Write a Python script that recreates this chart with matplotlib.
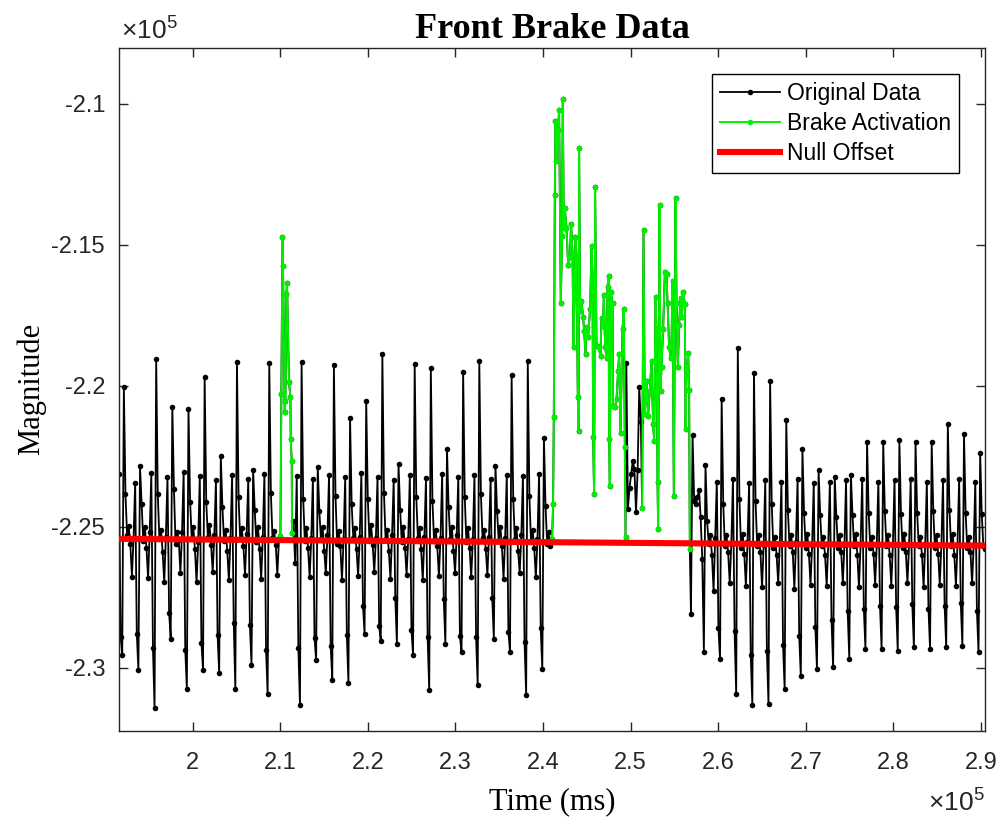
import numpy as np
import matplotlib
matplotlib.use("Agg")
import matplotlib.pyplot as plt
from matplotlib.ticker import FuncFormatter

plt.rcParams['font.family'] = 'Liberation Sans'
plt.rcParams['mathtext.fontset'] = 'custom'
plt.rcParams['mathtext.rm'] = 'Liberation Sans'

# logger sample clock (ms)
t0 = 191590
dt = 184.45

# Original Data, magnitude in units of 1e5, one spike period (10 samples) per row
# samples 0-99
seg_a = [
    -2.2312, -2.2890, -2.2954, -2.2004, -2.2384, -2.2530, -2.2496, -2.2560, -2.2677, -2.2540,
    -2.2346, -2.2879, -2.3007, -2.2286, -2.2420, -2.2550, -2.2500, -2.2575, -2.2683, -2.2520,
    -2.2311, -2.2929, -2.3142, -2.1904, -2.2384, -2.2545, -2.2510, -2.2590, -2.2697, -2.2535,
    -2.2325, -2.2805, -2.2897, -2.2074, -2.2366, -2.2560, -2.2520, -2.2548, -2.2665, -2.2520,
    -2.2307, -2.2936, -2.3074, -2.2082, -2.2411, -2.2540, -2.2502, -2.2580, -2.2697, -2.2555,
    -2.2321, -2.2911, -2.3007, -2.1968, -2.2414, -2.2535, -2.2495, -2.2565, -2.2660, -2.2530,
    -2.2335, -2.2883, -2.3018, -2.2248, -2.2430, -2.2550, -2.2510, -2.2585, -2.2690, -2.2540,
    -2.2318, -2.2840, -2.3074, -2.1915, -2.2395, -2.2545, -2.2505, -2.2570, -2.2672, -2.2525,
    -2.2330, -2.2848, -2.2989, -2.2298, -2.2440, -2.2555, -2.2500, -2.2580, -2.2685, -2.2535,
    -2.2312, -2.2936, -2.3092, -2.1918, -2.2380, -2.2540, -2.2515, -2.2565, -2.2670, -2.2545,
]
# samples 108-267
seg_b = [
    -2.2480, -2.2627,
    -2.2319, -2.2929, -2.3131, -2.1915, -2.2400, -2.2550, -2.2505, -2.2575, -2.2680, -2.2540,
    -2.2330, -2.2894, -2.2972, -2.2287, -2.2445, -2.2545, -2.2500, -2.2585, -2.2665, -2.2530,
    -2.2315, -2.2922, -2.3043, -2.1926, -2.2390, -2.2560, -2.2515, -2.2570, -2.2690, -2.2545,
    -2.2325, -2.2883, -2.3053, -2.2113, -2.2420, -2.2540, -2.2505, -2.2580, -2.2675, -2.2535,
    -2.2310, -2.2780, -2.2879, -2.2053, -2.2400, -2.2550, -2.2495, -2.2565, -2.2660, -2.2540,
    -2.2322, -2.2851, -2.2904, -2.1887, -2.2380, -2.2545, -2.2510, -2.2585, -2.2685, -2.2530,
    -2.2335, -2.2752, -2.2915, -2.2278, -2.2440, -2.2555, -2.2500, -2.2575, -2.2670, -2.2545,
    -2.2318, -2.2865, -2.2954, -2.1923, -2.2395, -2.2540, -2.2505, -2.2580, -2.2690, -2.2535,
    -2.2328, -2.2890, -2.3078, -2.1937, -2.2410, -2.2550, -2.2510, -2.2570, -2.2675, -2.2540,
    -2.2312, -2.2755, -2.2916, -2.2223, -2.2430, -2.2545, -2.2500, -2.2585, -2.2665, -2.2530,
    -2.2325, -2.2887, -2.2946, -2.1950, -2.2395, -2.2555, -2.2505, -2.2575, -2.2680, -2.2545,
    -2.2318, -2.2890, -2.3063, -2.1914, -2.2385, -2.2540, -2.2510, -2.2580, -2.2670, -2.2535,
    -2.2330, -2.2752, -2.2897, -2.2284, -2.2445, -2.2550, -2.2500, -2.2570, -2.2685, -2.2540,
    -2.2315, -2.2872, -2.2943, -2.1962, -2.2400, -2.2545, -2.2505, -2.2585, -2.2665, -2.2530,
    -2.2320, -2.2908, -2.3096, -2.1911, -2.2390, -2.2555, -2.2510, -2.2575, -2.2680, -2.2545,
    -2.2313, -2.2858, -2.3005, -2.2185, -2.2425, -2.2560, -2.2520, -2.2570,
]
# samples 314-323 (between the two brake phases)
seg_c = [-2.1920, -2.2436, -2.2361, -2.2313, -2.2266, -2.2294, -2.2449, -2.2300, -2.2006, -2.2130]
# samples 354-536
seg_d = [
    -2.2809, -2.2174, -2.2408, -2.2420, -2.2396, -2.2370, -2.2467, -2.2615, -2.2943, -2.2280,
    -2.2480, -2.2560, -2.2530, -2.2600, -2.2727, -2.2540,
    -2.2340, -2.2858, -2.2969, -2.2047, -2.2420, -2.2570, -2.2530, -2.2590, -2.2700, -2.2560,
    -2.2330, -2.2870, -2.3093, -2.1865, -2.2400, -2.2575, -2.2525, -2.2595, -2.2710, -2.2555,
    -2.2345, -2.2954, -2.3131, -2.1954, -2.2410, -2.2570, -2.2530, -2.2590, -2.2715, -2.2565,
    -2.2335, -2.2942, -2.3129, -2.1982, -2.2420, -2.2575, -2.2535, -2.2600, -2.2700, -2.2560,
    -2.2340, -2.2920, -2.3076, -2.2121, -2.2440, -2.2570, -2.2530, -2.2590, -2.2720, -2.2555,
    -2.2330, -2.2887, -2.3031, -2.2224, -2.2450, -2.2575, -2.2525, -2.2595, -2.2705, -2.2565,
    -2.2345, -2.2857, -2.3005, -2.2299, -2.2460, -2.2570, -2.2535, -2.2600, -2.2710, -2.2560,
    -2.2340, -2.2831, -2.2999, -2.2325, -2.2465, -2.2575, -2.2530, -2.2590, -2.2700, -2.2565,
    -2.2335, -2.2800, -2.2969, -2.2316, -2.2460, -2.2570, -2.2525, -2.2600, -2.2715, -2.2560,
    -2.2330, -2.2790, -2.2934, -2.2198, -2.2450, -2.2575, -2.2535, -2.2595, -2.2705, -2.2565,
    -2.2340, -2.2780, -2.2934, -2.2199, -2.2445, -2.2570, -2.2530, -2.2600, -2.2710, -2.2560,
    -2.2335, -2.2785, -2.2940, -2.2193, -2.2455, -2.2575, -2.2525, -2.2590, -2.2700, -2.2565,
    -2.2330, -2.2775, -2.2928, -2.2199, -2.2450, -2.2570, -2.2535, -2.2600, -2.2715, -2.2560,
    -2.2340, -2.2790, -2.2935, -2.2201, -2.2445, -2.2575, -2.2530, -2.2595, -2.2705, -2.2565,
    -2.2335, -2.2780, -2.2928, -2.2134, -2.2440, -2.2570, -2.2525, -2.2600, -2.2710, -2.2560,
    -2.2330, -2.2770, -2.2924, -2.2171, -2.2450, -2.2575, -2.2535, -2.2590, -2.2700, -2.2565,
    -2.2340, -2.2800, -2.2946, -2.2237, -2.2455, -2.2570, -2.2580,
]

# Brake Activation phases (ms, 1e5)
brake1_t = [210016, 210130, 210245, 210313, 210507, 210587, 210701, 210770, 210998,
            211158, 211192, 211307, 211341]
brake1_y = [-2.2532, -2.2028, -2.1472, -2.1577, -2.2092, -2.2053, -2.1674, -2.1634, -2.1986,
            -2.2041, -2.2188, -2.2266, -2.2521]

brake2_t = [241033, 241147, 241227, 241341, 241421, 241535, 241718, 241832, 242026, 242175,
            242255, 242369, 242483, 242677, 242860, 243054, 243203, 243363, 243477, 243591,
            243705, 243819, 243968, 244048, 244116, 244230, 244390, 244573, 244687, 244847,
            244961, 245144, 245372, 245532, 245647, 245715, 245829, 245943, 246103, 246332,
            246560, 246674, 246857, 246937, 247085, 247245, 247360, 247474, 247542, 247622,
            247736, 247931, 247999, 248193, 248387, 248570, 248684, 248844, 249073, 249221,
            249335, 249415]
brake2_y = [-2.2543, -2.2420, -2.2110, -2.1323, -2.1060, -2.1202, -2.1092, -2.1021, -2.1708, -2.1468,
            -2.0983, -2.1439, -2.1371, -2.1439, -2.1571, -2.1545, -2.1427, -2.1532, -2.1864, -2.1691,
            -2.1471, -2.1539, -2.2041, -2.2160, -2.1157, -2.1734, -2.1699, -2.1758, -2.1805, -2.1887,
            -2.1793, -2.1829, -2.1727, -2.1504, -2.1610, -2.2183, -2.2384, -2.1297, -2.1858, -2.1864,
            -2.1894, -2.1759, -2.1787, -2.1678, -2.1864, -2.1900, -2.1651, -2.1612, -2.2189, -2.2355,
            -2.1669, -2.1707, -2.2071, -2.2077, -2.2047, -2.1947, -2.1888, -2.2166, -2.1799, -2.1728,
            -2.2219, -2.2538]

brake3_t = [251311, 251471, 251619, 251813, 251996, 252190, 252384, 252567, 252681, 252841,
            252955, 253070, 253138, 253298, 253412, 253526, 253709, 253903, 254097, 254212,
            254394, 254554, 254668, 254783, 254931, 255125, 255239, 255388, 255536, 255696,
            255845, 255993, 256187, 256267, 256381, 256564, 256678, 256758]
brake3_y = [-2.2432, -2.1448, -2.2100, -2.1982, -2.2106, -2.2018, -2.1911, -2.2136, -2.2195, -2.1687,
            -2.1799, -2.2343, -2.2508, -2.1359, -2.2018, -2.1935, -2.1799, -2.1598, -2.1604, -2.1708,
            -2.1864, -2.1900, -2.1840, -2.1628, -2.2390, -2.1336, -2.1705, -2.1935, -2.1785, -2.1689,
            -2.1758, -2.1669, -2.1710, -2.2154, -2.1949, -2.1884, -2.2015, -2.2579]

# Null Offset fit end points
null_t = [191590, 290457]
null_y = [-2.2543, -2.2567]

t_a = t0 + dt * np.arange(0, 100)
t_b = t0 + dt * np.arange(108, 268)
t_c = t0 + dt * np.arange(314, 324)
t_d = t0 + dt * np.arange(354, 537)

orig_t = np.concatenate([t_a, brake1_t, t_b, brake2_t, t_c, brake3_t, t_d])
orig_y = np.concatenate([seg_a, brake1_y, seg_b, brake2_y, seg_c, brake3_y, seg_d]) * 1e5

gap = [np.nan]
brake_t = np.concatenate([brake1_t, gap, brake2_t, gap, brake3_t])
brake_y = np.concatenate([brake1_y, gap, brake2_y, gap, brake3_y]) * 1e5

fig = plt.figure(figsize=(9.99, 8.17), dpi=100)
ax = fig.add_axes([0.1191, 0.1056, 0.8669, 0.8360])

ax.plot(orig_t, orig_y, color='k', lw=1.3, marker='o', ms=4.0, mew=0,
        label='Original Data', zorder=2)
ax.plot(brake_t, brake_y, color='#00f000', lw=1.4, marker='o', ms=4.0, mew=0,
        label='Brake Activation', zorder=3)
ax.plot(null_t, np.array(null_y) * 1e5, color='#ff0000', lw=4.4,
        label='Null Offset', zorder=4)

ax.set_xlim(191587, 290457)
ax.set_ylim(-232234, -208014)
ax.set_xticks(np.arange(2.0, 2.95, 0.1) * 1e5)
ax.set_yticks(np.arange(-2.3, -2.09, 0.05) * 1e5)
fmt = FuncFormatter(lambda v, p: '{:g}'.format(round(v / 1e5, 3)))
ax.xaxis.set_major_formatter(fmt)
ax.yaxis.set_major_formatter(fmt)

axcol = '#262626'
for s in ax.spines.values():
    s.set_color(axcol)
    s.set_linewidth(1.0)
ax.tick_params(direction='in', top=True, right=True, length=6.5, width=1.0,
               colors=axcol, labelsize=17)
ax.tick_params(axis='x', pad=15)
ax.tick_params(axis='y', pad=10)

ax.set_title('Front Brake Data', fontfamily='Liberation Serif', fontweight='bold',
             fontsize=26, pad=7)
ax.set_xlabel('Time (ms)', fontfamily='Liberation Serif', fontsize=22, labelpad=10)
ax.set_ylabel('Magnitude', fontfamily='Liberation Serif', fontsize=22, labelpad=4)

ax.text(0.002, 1.006, '×10$^{5}$', transform=ax.transAxes, ha='left', va='bottom',
        fontsize=19, color=axcol)
ax.text(1.0, -0.083, '×10$^{5}$', transform=ax.transAxes, ha='right', va='top',
        fontsize=19, color=axcol)

leg = ax.legend(loc='upper right', bbox_to_anchor=(0.970, 0.9615), fontsize=16.5,
                frameon=True, fancybox=False, edgecolor='k', framealpha=1,
                handlelength=2.6, handletextpad=0.3, labelspacing=0.3,
                borderpad=0.35, borderaxespad=0)
leg.get_frame().set_linewidth(1.0)

fig.savefig('out.png', dpi=100)
